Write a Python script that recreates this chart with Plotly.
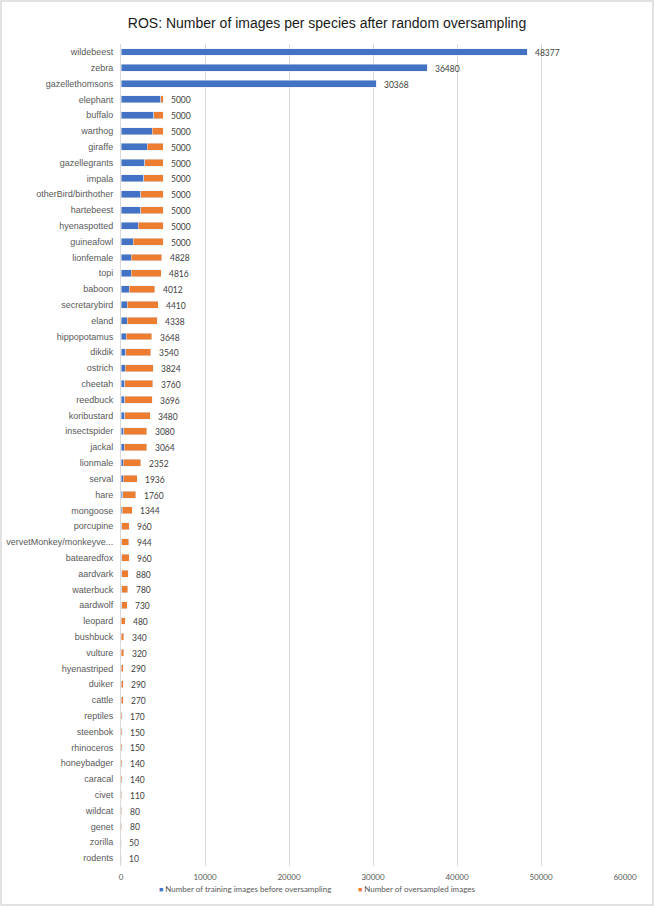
import plotly.graph_objects as go

species = ["wildebeest", "zebra", "gazellethomsons", "elephant", "buffalo", "warthog", "giraffe",
           "gazellegrants", "impala", "otherBird/birthother", "hartebeest", "hyenaspotted", "guineafowl",
           "lionfemale", "topi", "baboon", "secretarybird", "eland", "hippopotamus", "dikdik", "ostrich",
           "cheetah", "reedbuck", "koribustard", "insectspider", "jackal", "lionmale", "serval", "hare",
           "mongoose", "porcupine", "vervetMonkey/monkeyve...", "batearedfox", "aardvark", "waterbuck",
           "aardwolf", "leopard", "bushbuck", "vulture", "hyenastriped", "duiker", "cattle", "reptiles",
           "steenbok", "rhinoceros", "honeybadger", "caracal", "civet", "wildcat", "genet", "zorilla",
           "rodents"]

totals = [48377, 36480, 30368, 5000, 5000, 5000, 5000, 5000, 5000, 5000, 5000, 5000, 5000,
          4828, 4816, 4012, 4410, 4338, 3648, 3540, 3824, 3760, 3696, 3480, 3080, 3064, 2352, 1936, 1760,
          1344, 960, 944, 960, 880, 780, 730, 480, 340, 320, 290, 290, 270, 170, 150, 150, 140, 140, 110,
          80, 80, 50, 10]

before = [48377, 36480, 30368, 4760, 3880, 3690, 3095, 2810, 2690, 2335, 2335, 2060, 1465,
          1207, 1204, 1003, 735, 723, 608, 590, 478, 470, 462, 435, 308, 383, 294, 242, 220,
          168, 96, 118, 96, 88, 78, 73, 48, 34, 32, 29, 29, 27, 17, 15, 15, 14, 14, 11,
          8, 8, 5, 1]

oversampled = [t - b for t, b in zip(totals, before)]

series_names = ["Number of training images before oversampling", "Number of oversampled images"]

BLUE = "#4472C4"
ORANGE = "#ED7D31"
NUMFONT = "Lato, Open Sans, sans-serif"
LABFONT = "Liberation Sans, Arial, sans-serif"

fig = go.Figure()
fig.add_bar(name=series_names[0], y=species, x=before, orientation="h", marker_color=BLUE)
fig.add_bar(name=series_names[1], y=species, x=oversampled, orientation="h", marker_color=ORANGE)

# total labels at the end of each bar
for sp, t in zip(species, totals):
    fig.add_annotation(x=t, y=sp, text=str(t), showarrow=False, xanchor="left", xshift=6, yshift=-1,
                       font=dict(family=NUMFONT, size=8.5, color="#404040"))

# compact Excel-style legend under the axis
for name, col, lx in zip(series_names, [BLUE, ORANGE], [0.072, 0.466]):
    fig.add_annotation(xref="paper", yref="paper", x=lx, y=-0.028, xanchor="left", yanchor="middle",
                       showarrow=False,
                       text=f"<span style='color:{col};font-size:7px'>■</span> {name}",
                       font=dict(family=NUMFONT, size=8, color="#595959"))

fig.update_layout(
    barmode="stack", bargap=0.56, showlegend=False,
    width=654, height=906,
    margin=dict(l=121, r=29, t=44, b=40, autoexpand=False),
    paper_bgcolor="white", plot_bgcolor="white",
    title=dict(text="ROS: Number of images per species after random oversampling",
               x=0.5, xanchor="center", y=0.975, yanchor="middle",
               font=dict(family=LABFONT, size=14, color="#1a1a1a")),
    xaxis=dict(range=[0, 60000], dtick=10000, tickformat="d", showgrid=True, gridcolor="#D9D9D9",
               gridwidth=1, zeroline=False, showline=False, ticks="", automargin=False,
               ticklabelstandoff=5,
               tickfont=dict(family=NUMFONT, size=8, color="#595959")),
    yaxis=dict(autorange="reversed", showgrid=False, showline=True, linecolor="#D9D9D9",
               ticks="", ticklabelstandoff=5, automargin=False,
               tickfont=dict(family=LABFONT, size=9, color="#595959")),
)

fig.add_shape(type="rect", xref="paper", yref="paper",
              x0=-120 / 504, x1=1 + 28 / 504, y0=-39 / 822, y1=1 + 43 / 822,
              line=dict(color="#D9D9D9", width=1.5), fillcolor="rgba(0,0,0,0)", layer="below")

fig.write_html("out.html", config={"displayModeBar": False},
               post_script="document.body.style.margin='0';document.body.style.overflow='hidden';")
